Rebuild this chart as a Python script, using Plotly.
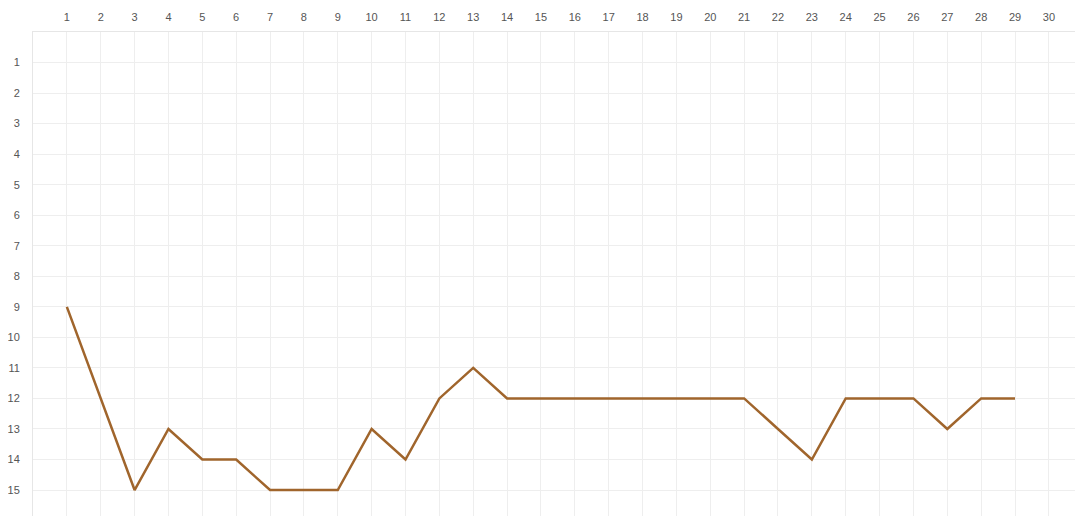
import plotly.graph_objects as go

days = list(range(1, 30))
ranks = [9, 12, 15, 13, 14, 14, 15, 15, 15, 13, 14, 12, 11, 12, 12, 12, 12, 12, 12, 12, 12, 13, 14, 12, 12, 12, 13, 12, 12]
x_ticks = list(range(1, 31))
y_ticks = list(range(1, 16))

fig = go.Figure()
fig.add_trace(go.Scatter(x=days, y=ranks, mode="lines",
                         line=dict(color="#A0652C", width=2.5), hoverinfo="x+y"))

fig.update_layout(
    width=1075, height=508,
    margin=dict(l=25, r=6, t=24, b=0, autoexpand=False),
    paper_bgcolor="white", plot_bgcolor="white",
    showlegend=False,
    font=dict(family="Liberation Sans, Arial, sans-serif", size=11, color="#555555"),
)
fig.update_xaxes(side="top", range=[0, 30.83], tickvals=x_ticks,
                 ticktext=[str(v) for v in x_ticks], automargin=False,
                 showgrid=True, gridcolor="#eeeeee", gridwidth=1,
                 showline=True, linecolor="#e6e6e6", mirror=False,
                 zeroline=False, ticks="", ticklabelstandoff=6)
fig.update_yaxes(range=[15.85, 0], tickvals=y_ticks,
                 ticktext=[str(v) for v in y_ticks], automargin=False,
                 showgrid=True, gridcolor="#eeeeee", gridwidth=1,
                 showline=True, linecolor="#e6e6e6", mirror=True,
                 zeroline=False, ticks="", ticklabelstandoff=10)

fig.write_html("out.html")
